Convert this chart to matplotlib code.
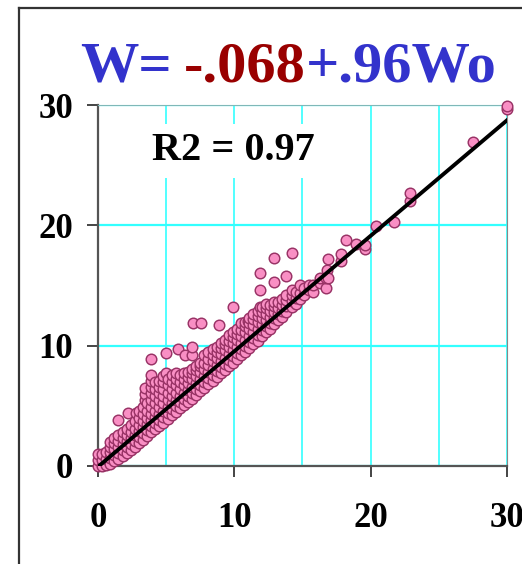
import matplotlib
matplotlib.use("Agg")
import matplotlib.pyplot as plt
from matplotlib.lines import Line2D
from matplotlib.ticker import MultipleLocator

plt.rcParams["font.family"] = ["Liberation Serif", "DejaVu Serif"]
plt.rcParams["font.weight"] = "bold"

# fitted line W = a + b*Wo
intercept = -0.068
slope = 0.96
r2 = 0.97

wo = [
    0.0, 0.0, 0.0,
    0.3, 0.3, 0.3,
    0.6, 0.6, 0.6,
    0.9, 0.9, 0.9, 0.9, 0.9,
    1.2, 1.2, 1.2, 1.2, 1.2,
    1.5, 1.5, 1.5, 1.5, 1.5, 1.5,
    1.8, 1.8, 1.8, 1.8, 1.8,
    2.1, 2.1, 2.1, 2.1, 2.1,
    2.2,
    2.4, 2.4, 2.4, 2.4, 2.4,
    2.7, 2.7, 2.7, 2.7, 2.7,
    2.8,
    3.0, 3.0, 3.0, 3.0, 3.0, 3.0,
    3.3, 3.3, 3.3, 3.3, 3.3, 3.3,
    3.45, 3.45, 3.45,
    3.6, 3.6, 3.6, 3.6, 3.6, 3.6,
    3.9, 3.9, 3.9, 3.9, 3.9, 3.9, 3.9, 3.9, 3.9, 3.9, 3.9,
    4.2, 4.2, 4.2, 4.2, 4.2, 4.2, 4.2, 4.2,
    4.5, 4.5, 4.5, 4.5, 4.5, 4.5, 4.5, 4.5,
    4.8, 4.8, 4.8, 4.8, 4.8, 4.8, 4.8, 4.8,
    5.0, 5.0,
    5.1, 5.1, 5.1, 5.1, 5.1, 5.1, 5.1,
    5.4, 5.4, 5.4, 5.4, 5.4, 5.4, 5.4,
    5.7, 5.7, 5.7, 5.7, 5.7, 5.7, 5.7,
    5.9,
    6.0, 6.0, 6.0, 6.0, 6.0, 6.0,
    6.3, 6.3, 6.3, 6.3, 6.3, 6.3,
    6.4,
    6.6, 6.6, 6.6, 6.6, 6.6, 6.6,
    6.9, 6.9, 6.9, 6.9, 6.9, 6.9, 6.9, 6.9,
    7.0,
    7.2, 7.2, 7.2, 7.2, 7.2, 7.2,
    7.5, 7.5, 7.5, 7.5, 7.5, 7.5,
    7.56,
    7.8, 7.8, 7.8, 7.8, 7.8, 7.8,
    8.1, 8.1, 8.1, 8.1, 8.1, 8.1,
    8.4, 8.4, 8.4, 8.4, 8.4, 8.4,
    8.7, 8.7, 8.7, 8.7, 8.7, 8.7,
    8.9,
    9.0, 9.0, 9.0, 9.0, 9.0, 9.0,
    9.3, 9.3, 9.3, 9.3, 9.3, 9.3,
    9.6, 9.6, 9.6, 9.6, 9.6, 9.6,
    9.9, 9.9, 9.9, 9.9, 9.9, 9.9, 9.9,
    10.2, 10.2, 10.2, 10.2, 10.2, 10.2,
    10.5, 10.5, 10.5, 10.5, 10.5, 10.5,
    10.8, 10.8, 10.8, 10.8, 10.8, 10.8,
    11.0,
    11.1, 11.1, 11.1, 11.1, 11.1, 11.1,
    11.4, 11.4, 11.4, 11.4, 11.4, 11.4,
    11.7, 11.7, 11.7, 11.7, 11.7, 11.7,
    11.9, 11.9, 11.9,
    12.0, 12.0, 12.0, 12.0, 12.0, 12.0,
    12.3, 12.3, 12.3, 12.3, 12.3, 12.3,
    12.6, 12.6, 12.6, 12.6, 12.6,
    12.9, 12.9, 12.9, 12.9, 12.9, 12.9, 12.9,
    13.2, 13.2, 13.2, 13.2,
    13.5, 13.5, 13.5, 13.5,
    13.8, 13.8, 13.8, 13.8, 13.8,
    14.2, 14.2, 14.2, 14.2, 14.2,
    14.5, 14.5, 14.5,
    14.8, 14.8, 14.8,
    15.1, 15.1,
    15.5, 15.5,
    15.8, 15.8,
    16.3, 16.3,
    16.7, 16.7,
    16.8,
    16.9, 16.9,
    17.8, 17.8,
    18.2,
    18.9,
    19.6, 19.6,
    20.4,
    21.7,
    22.9, 22.9,
    27.5,
    30.0, 30.0,
]
w = [
    0.0, 0.5, 1.0,
    0.0, 0.5, 1.0,
    0.1, 0.6, 1.2,
    0.2, 0.7, 1.2, 1.6, 2.0,
    0.4, 0.9, 1.4, 1.9, 2.3,
    0.6, 1.1, 1.6, 2.1, 2.6, 3.8,
    0.8, 1.3, 1.8, 2.3, 2.8,
    1.1, 1.6, 2.1, 2.6, 3.1,
    4.4,
    1.3, 1.8, 2.3, 2.8, 3.4,
    1.6, 2.1, 2.6, 3.1, 3.7,
    4.4,
    1.9, 2.4, 2.9, 3.4, 4.0, 4.6,
    2.2, 2.7, 3.2, 3.7, 4.3, 4.9,
    5.5, 6.0, 6.45,
    2.5, 3.0, 3.5, 4.0, 4.6, 5.2,
    2.8, 3.3, 3.8, 4.3, 4.9, 5.5, 6.1, 6.6, 7.1, 7.6, 8.9,
    3.1, 3.6, 4.1, 4.6, 5.2, 5.8, 6.4, 7.0,
    3.3, 3.8, 4.3, 4.9, 5.5, 6.1, 6.6, 7.1,
    3.6, 4.1, 4.6, 5.2, 5.8, 6.4, 7.0, 7.5,
    7.7, 9.4,
    3.9, 4.4, 4.9, 5.5, 6.1, 6.7, 7.2,
    4.2, 4.7, 5.2, 5.8, 6.4, 7.0, 7.6,
    4.5, 5.0, 5.5, 6.1, 6.7, 7.2, 7.7,
    9.7,
    4.8, 5.3, 5.8, 6.4, 7.0, 7.6,
    5.1, 5.6, 6.1, 6.7, 7.2, 7.7,
    9.2,
    5.3, 5.8, 6.3, 6.9, 7.4, 7.8,
    5.6, 6.1, 6.6, 7.2, 7.7, 8.1, 9.2, 9.9,
    11.86,
    5.9, 6.4, 6.9, 7.5, 8.0, 8.3,
    6.2, 6.7, 7.2, 7.8, 8.3, 8.6,
    11.86,
    6.5, 7.0, 7.5, 8.1, 8.6, 9.2,
    6.8, 7.3, 7.8, 8.4, 8.9, 9.5,
    7.1, 7.6, 8.1, 8.7, 9.2, 9.7,
    7.4, 7.9, 8.4, 9.0, 9.5, 9.9,
    11.7,
    7.7, 8.2, 8.7, 9.3, 9.8, 10.2,
    8.0, 8.5, 9.0, 9.6, 10.1, 10.5,
    8.3, 8.8, 9.3, 9.9, 10.4, 10.9,
    8.6, 9.1, 9.6, 10.2, 10.7, 11.1, 13.2,
    8.9, 9.4, 9.9, 10.5, 11.0, 11.4,
    9.2, 9.7, 10.2, 10.8, 11.3, 11.9,
    9.5, 10.0, 10.5, 11.1, 11.6, 12.0,
    12.05,
    9.8, 10.3, 10.8, 11.4, 11.9, 12.3,
    10.1, 10.6, 11.1, 11.7, 12.2, 12.6,
    10.4, 10.9, 11.4, 12.0, 12.5, 12.9,
    13.2, 14.6, 16.0,
    10.8, 11.3, 11.8, 12.3, 12.8, 13.2,
    11.1, 11.6, 12.1, 12.6, 13.1, 13.5,
    11.4, 11.9, 12.4, 12.9, 13.4,
    11.8, 12.3, 12.8, 13.3, 13.6, 15.3, 17.3,
    12.1, 12.6, 13.1, 13.6,
    12.4, 12.9, 13.4, 13.9,
    12.8, 13.3, 13.8, 14.2, 15.8,
    13.2, 13.7, 14.2, 14.6, 17.7,
    13.5, 14.0, 14.5,
    13.9, 14.4, 15.0,
    14.2, 14.8,
    14.6, 15.0,
    14.5, 15.0,
    15.2, 15.6,
    14.8, 15.6,
    16.3,
    15.6, 17.2,
    17.0, 17.6,
    18.8,
    18.45,
    18.05, 18.4,
    19.95,
    20.3,
    22.05, 22.7,
    26.9,
    29.65, 29.9,
]

fig = plt.figure(figsize=(5.22, 5.64), dpi=100)
fig.patch.set_facecolor("white")

# outer frame (left and top edges visible)
fig.add_artist(Line2D([0.037, 0.037], [0.0, 0.986], color="#333333", lw=1.6))
fig.add_artist(Line2D([0.037, 1.0], [0.986, 0.986], color="#333333", lw=1.6))

ax = fig.add_axes([0.1877, 0.1738, 0.7836, 0.64])
ax.set_xlim(0, 30)
ax.set_ylim(0, 30)
ax.set_axisbelow(True)

ax.xaxis.set_major_locator(MultipleLocator(10))
ax.xaxis.set_minor_locator(MultipleLocator(5))
ax.yaxis.set_major_locator(MultipleLocator(10))
ax.grid(True, which="both", axis="x", color="#33ffff", lw=1.2)
ax.grid(True, which="major", axis="y", color="#33ffff", lw=1.6)
ax.tick_params(axis="both", which="major", length=8, width=1.4, color="#444444",
               labelsize=25)
ax.tick_params(axis="x", which="minor", length=0)
ax.tick_params(axis="x", pad=18)
ax.tick_params(axis="y", pad=10)
for lab in ax.get_xticklabels() + ax.get_yticklabels():
    lab.set_fontweight("bold")

for side in ["left", "bottom"]:
    ax.spines[side].set_color("#555555")
    ax.spines[side].set_linewidth(1.6)
ax.spines["top"].set_color("#7fb8b8")
ax.spines["right"].set_color("#888888")

ax.scatter(wo, w, s=58, facecolor="#f98fc4", edgecolor="#993366",
           linewidth=1.05, zorder=3, clip_on=False)

fit_x = [0, 30]
fit_y = [intercept + slope * v for v in fit_x]
ax.plot(fit_x, fit_y, color="black", lw=2.8, zorder=4)

ax.text(9.9, 26.2, f"R2 = {r2:.2f}", fontsize=29, fontweight="bold",
        ha="center", va="center", zorder=5,
        bbox=dict(facecolor="white", edgecolor="none", pad=6))

# coloured title: W= (blue) -.068 (red) +.96Wo (blue)
t1 = fig.text(0.153, 0.855, "W=", fontsize=42, fontweight="bold",
              color="#3333cc", va="baseline")
t2 = ax.annotate(f"-{abs(intercept):.3f}".replace("0.", "."), xy=(1, 0),
                 xycoords=t1, xytext=(9, 0), textcoords="offset points",
                 fontsize=42, fontweight="bold", color="#990000",
                 va="bottom", annotation_clip=False)
t3 = ax.annotate(f"+{slope:.2f}".replace("0.", ".") + "Wo", xy=(1, 0),
                 xycoords=t2, xytext=(0, 0), textcoords="offset points",
                 fontsize=42, fontweight="bold", color="#3333cc",
                 va="bottom", annotation_clip=False)

fig.savefig("out.png", dpi=100, facecolor="white")
plt.close(fig)
